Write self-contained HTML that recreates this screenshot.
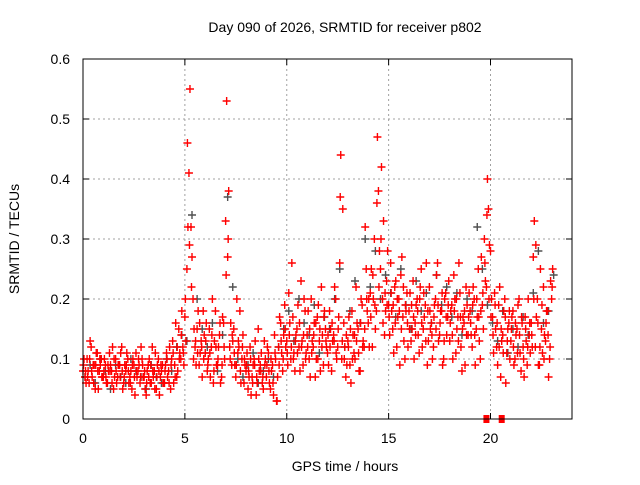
<!DOCTYPE html>
<html><head><meta charset="utf-8"><style>
body{margin:0;background:#fff}
svg text{font-family:"Liberation Sans",sans-serif;fill:#000}
</style></head><body>
<svg id="chart" width="640" height="480" viewBox="0 0 640 480" xmlns="http://www.w3.org/2000/svg">
<rect width="640" height="480" fill="#fff"/>
<text x="345" y="32" font-size="14" text-anchor="middle">Day 090 of 2026, SRMTID for receiver p802</text>
<text transform="translate(19,239) rotate(-90)" font-size="14" text-anchor="middle">SRMTID / TECUs</text>
<text x="345" y="471" font-size="14" text-anchor="middle">GPS time / hours</text>
<g id="grid"></g><g id="ticks"></g><g id="gray"></g><g id="red"></g>
<rect x="83" y="59" width="489" height="360" fill="none" stroke="#000" stroke-width="1"/>
</svg>
<script>
const xTicks=[0,5,10,15,20];
const yTicks=[0,0.1,0.2,0.3,0.4,0.5,0.6];
const yTickLabels=["0","0.1","0.2","0.3","0.4","0.5","0.6"];
const redA=[.08,.07,.10,.06,.12,.09,.05,.11,.08,.10,.07,.09,.06,.11,.08,.05,.10,.07,.09,.12,.06,.08,.10,.07,.05,.09,.11,.08,.06,.10,.07,.04,.09,.06,.12,.08,.05,.10,.07,.09,.06,.11,.08,.05,.13,.09,.07,.15,.10,.12,.17,.25,.41,.32,.20,.12,.15,.09,.13,.18,.11,.08,.15,.12,.06,.18,.09,.14,.07,.16,.33,.27,.12,.09,.15,.07,.11,.18,.10,.06,.08,.05,.12,.07,.10,.04,.15,.09,.06,.13,.07,.11,.05,.09,.14,.03,.12,.16,.08,.19,.13,.21,.10,.17,.08,.15,.12,.23,.09,.18,.14,.10,.20,.12,.07,.17,.13,.22,.09,.15,.11,.18,.08,.14,.20,.12,.26,.10,.16,.07,.13,.09,.18,.11,.22,.15,.08,.19,.12,.25,.16,.21,.12,.30,.18,.38,.25,.20,.14,.23,.19,.26,.15,.22,.12,.20,.24,.17,.10,.21,.18,.13,.23,.16,.20,.11,.25,.15,.19,.09,.22,.16,.12,.20,.26,.14,.18,.10,.21,.17,.13,.19,.24,.11,.17,.21,.08,.16,.22,.14,.18,.12,.20,.15,.25,.10,.19,.30,.22,.35,.28,.17,.21,.12,.19,.07,.14,.20,.11,.16,.13,.18,.10,.15,.20,.08,.12,.17,.09,.14,.16,.27,.12,.20,.09,.15,.22,.13,.18,.10,.20];
const redB=[.10,.06,.08,.13,.07,.09,.11,.05,.09,.07,.10,.06,.08,.09,.12,.07,.06,.09,.11,.05,.09,.11,.06,.08,.10,.04,.07,.09,.12,.07,.05,.08,.10,.06,.07,.11,.09,.04,.08,.06,.09,.07,.12,.10,.06,.16,.08,.11,.18,.09,.13,.32,.55,.27,.15,.09,.18,.11,.07,.14,.16,.10,.07,.20,.13,.09,.12,.06,.17,.10,.53,.38,.16,.13,.09,.20,.12,.06,.14,.09,.11,.07,.04,.09,.13,.06,.08,.11,.05,.10,.12,.06,.08,.04,.10,.07,.17,.11,.14,.12,.09,.16,.26,.11,.14,.19,.08,.13,.20,.11,.18,.07,.13,.16,.10,.19,.08,.14,.18,.12,.09,.15,.13,.22,.10,.17,.44,.35,.12,.09,.17,.06,.14,.10,.16,.08,.20,.13,.32,.18,.12,.25,.20,.15,.47,.28,.42,.33,.18,.28,.14,.18,.11,.23,.17,.09,.27,.13,.18,.12,.21,.15,.10,.19,.14,.22,.12,.17,.26,.13,.15,.10,.19,.24,.13,.18,.09,.20,.14,.23,.18,.10,.20,.15,.26,.12,.17,.09,.19,.21,.14,.22,.09,.17,.13,.27,.15,.23,.40,.29,.20,.11,.15,.09,.22,.13,.18,.06,.15,.10,.17,.09,.14,.19,.11,.16,.07,.13,.20,.11,.12,.33,.17,.09,.25,.11,.14,.18,.07,.23,.25];
const redC=[.09,.08,.07,.10,.08,.06,.09,.08,.10,.07,.08,.07,.09,.08,.06,.10,.08,.09,.07,.08,.07,.09,.08,.06,.09,.07,.08,.10,.07,.09,.08,.06,.07,.09,.08,.05,.07,.08,.09,.06,.08,.10,.06,.09,.11,.07,.12,.10,.14,.11,.20,.46,.29,.22,.10,.13,.11,.16,.12,.10,.13,.09,.11,.14,.08,.12,.10,.16,.09,.12,.24,.30,.10,.14,.11,.09,.13,.08,.12,.10,.09,.08,.10,.06,.09,.07,.10,.08,.07,.09,.09,.08,.10,.06,.11,.03,.09,.13,.10,.15,.11,.14,.12,.10,.13,.11,.16,.12,.14,.10,.12,.15,.11,.14,.16,.10,.15,.12,.17,.13,.14,.12,.16,.13,.11,.15,.37,.13,.10,.14,.12,.15,.10,.14,.13,.11,.16,.12,.15,.20,.20,.17,.24,.19,.36,.22,.30,.16,.21,.19,.17,.21,.19,.16,.20,.18,.15,.22,.19,.16,.15,.19,.17,.14,.18,.20,.16,.21,.13,.18,.18,.14,.17,.15,.19,.16,.21,.13,.17,.19,.16,.14,.18,.20,.13,.17,.15,.18,.14,.17,.16,.19,.14,.20,.17,.18,.21,.26,.34,.20,.17,.14,.19,.16,.12,.15,.11,.17,.13,.18,.15,.12,.16,.11,.14,.17,.10,.15,.12,.16,.14,.20,.29,.16,.12,.19,.10,.16,.14,.12,.22];
const grayVals=[.07,.09,.06,.10,.08,.05,.09,.07,.06,.10,.08,.07,.05,.09,.07,.06,.10,.08,.12,.14,.13,.34,.20,.15,.12,.16,.08,.14,.37,.22,.10,.07,.09,.11,.06,.08,.10,.07,.12,.15,.18,.13,.20,.16,.14,.19,.11,.17,.15,.20,.25,.12,.18,.23,.16,.30,.22,.28,.20,.24,.21,.17,.25,.19,.15,.23,.18,.21,.16,.24,.19,.22,.17,.21,.14,.20,.18,.32,.25,.19,.16,.13,.18,.11,.15,.12,.17,.14,.21,.28,.16,.18,.24];
const zeroTimes=[19.8,20.55];
const zeroVals=[0,0];

const X=t=>83+t*(489/24);
const Y=v=>419-v*600;
const NS="http://www.w3.org/2000/svg";
function mk(tag,parent){const e=document.createElementNS(NS,tag);parent.appendChild(e);return e;}
const grid=document.getElementById('grid'),ticks=document.getElementById('ticks');
yTicks.forEach((v,i)=>{
  if(v>0&&v<0.6){const l=mk('line',grid);
    
    
    l.setAttribute('x1',83);l.setAttribute('x2',572);l.setAttribute('y1',Y(v));l.setAttribute('y2',Y(v));
    l.setAttribute('stroke','#a0a0a0');l.setAttribute('stroke-dasharray','2,3');}
  const t=mk('text',ticks);
  
  
  t.setAttribute('x',70);t.setAttribute('y',Y(v)+5);t.setAttribute('font-size','14');t.setAttribute('text-anchor','end');
  t.textContent=yTickLabels[i];
  [[83,89],[566,572]].forEach(p=>{const k=mk('line',ticks);
    
    
    k.setAttribute('x1',p[0]);k.setAttribute('x2',p[1]);k.setAttribute('y1',Y(v));k.setAttribute('y2',Y(v));k.setAttribute('stroke','#000');});
});
xTicks.forEach(h=>{
  if(h>0){const l=mk('line',grid);
    
    
    l.setAttribute('x1',X(h));l.setAttribute('x2',X(h));l.setAttribute('y1',59);l.setAttribute('y2',419);
    l.setAttribute('stroke','#a0a0a0');l.setAttribute('stroke-dasharray','2,3');}
  const t=mk('text',ticks);
  
  
  t.setAttribute('x',X(h));t.setAttribute('y',443);t.setAttribute('font-size','14');t.setAttribute('text-anchor','middle');
  t.textContent=String(h);
  [[413,419],[59,65]].forEach(p=>{const k=mk('line',ticks);
    
    
    k.setAttribute('x1',X(h));k.setAttribute('x2',X(h));k.setAttribute('y1',p[0]);k.setAttribute('y2',p[1]);k.setAttribute('stroke','#000');});
});
function plus(g,t,v,color,name){
  const x=X(t),y=Y(v);const p=mk('path',g);
  
  
  p.setAttribute('d',`M${x-4} ${y}H${x+4}M${x} ${y-4}V${y+4}`);
  p.setAttribute('stroke',color);p.setAttribute('stroke-width','1.4');
}
const gray=document.getElementById('gray'),red=document.getElementById('red');
grayVals.forEach((v,i)=>plus(gray,i*0.25+0.1,v,'#505050','gray-point'));
redA.forEach((v,i)=>plus(red,i*0.1,v,'#ff0000','red-point'));
redB.forEach((v,i)=>plus(red,i*0.1+0.05,v,'#ff0000','red-point'));
redC.forEach((v,i)=>plus(red,i*0.1+0.025,v,'#ff0000','red-point'));
zeroVals.forEach((v,i)=>{const r=mk('rect',red);
  
  
  r.setAttribute('x',X(zeroTimes[i])-3);r.setAttribute('y',Y(v)-4);r.setAttribute('width',6);r.setAttribute('height',8);r.setAttribute('fill','#ff0000');});
</script>
</body></html>
